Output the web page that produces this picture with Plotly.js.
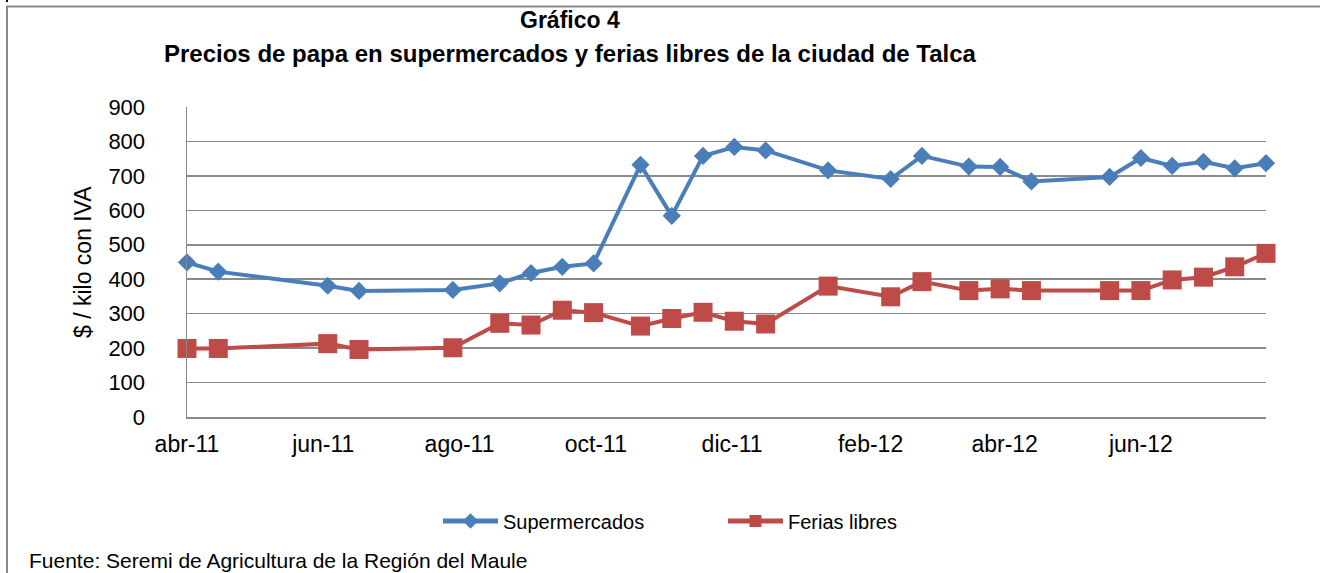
<!DOCTYPE html>
<html>
<head>
<meta charset="utf-8">
<script src="https://cdn.plot.ly/plotly-3.0.1.min.js"></script>
<style>
html,body{margin:0;padding:0;background:#fff;}
#chart{width:1320px;height:573px;}
</style>
</head>
<body>
<div id="chart"></div>
<script>
// Dates of observations
const fechas = ['2011-04-01','2011-04-15','2011-06-03','2011-06-17','2011-07-29','2011-08-19',
  '2011-09-02','2011-09-16','2011-09-30','2011-10-21','2011-11-04','2011-11-18',
  '2011-12-02','2011-12-16','2012-01-13','2012-02-10','2012-02-24','2012-03-16',
  '2012-03-30','2012-04-13','2012-05-18','2012-06-01','2012-06-15','2012-06-29',
  '2012-07-13','2012-07-27'];
// $ / kilo con IVA
const supermercados = [449,422,381,366,369,388,418,436,446,732,584,758,784,774,716,691,758,727,726,684,697,752,729,741,722,737];
const feriasLibres = [199,199,213,196,201,272,267,310,303,264,286,304,278,270,380,349,393,367,372,367,367,367,398,406,436,475];
// Axis ticks
const tickFechas = ['2011-04-01','2011-06-01','2011-08-01','2011-10-01','2011-12-01','2012-02-01','2012-04-01','2012-06-01'];
const tickTextos = ['abr-11','jun-11','ago-11','oct-11','dic-11','feb-12','abr-12','jun-12'];
const yTicks = [0,100,200,300,400,500,600,700,800,900];
const serieNombres = ['Supermercados','Ferias libres'];
const titulo1 = 'Gráfico 4';
const titulo2 = 'Precios de papa en supermercados y ferias libres de la ciudad de Talca';
const tituloY = '$ / kilo con IVA';
const fuente = 'Fuente: Seremi de Agricultura de la Región del Maule';

const FONT = '"Liberation Sans", Arial, sans-serif';
const W = 1320, H = 573;
const L = 187, R = 54, T = 107, B = 156;
const pw = W - L - R, ph = H - T - B;
const px = x => (x - L) / pw;
const py = y => (H - B - y) / ph;
const grid = '#8a8a8a';

const traces = [
  {x: fechas, y: supermercados, name: serieNombres[0], type: 'scatter', mode: 'lines+markers',
   cliponaxis: false,
   line: {color: '#4a7ebb', width: 4}, marker: {symbol: 'diamond', size: 14, color: '#4a7ebb'}},
  {x: fechas, y: feriasLibres, name: serieNombres[1], type: 'scatter', mode: 'lines+markers',
   cliponaxis: false,
   line: {color: '#be4b48', width: 4}, marker: {symbol: 'square', size: 19, color: '#be4b48'}}
];

const layout = {
  width: W, height: H,
  margin: {l: L, r: R, t: T, b: B, pad: 0},
  paper_bgcolor: '#fff', plot_bgcolor: '#fff',
  font: {family: FONT, size: 20, color: '#000'},
  showlegend: true,
  legend: {orientation: 'h', x: px(438), y: py(521), xanchor: 'left', yanchor: 'middle',
    font: {family: FONT, size: 20, color: '#000'}, entrywidth: 215, entrywidthmode: 'pixels',
    itemwidth: 55, itemsizing: 'constant', bgcolor: 'rgba(0,0,0,0)'},
  xaxis: {type: 'date', range: ['2011-04-01', '2012-07-27'], tickmode: 'array',
    tickvals: tickFechas, ticktext: tickTextos, showgrid: false, zeroline: false,
    showline: true, linecolor: grid, linewidth: 1.5,
    ticks: 'outside', ticklen: 6, tickcolor: 'rgba(0,0,0,0)',
    tickfont: {family: FONT, size: 23, color: '#000'}, fixedrange: true},
  yaxis: {range: [0, 900], tickmode: 'array', tickvals: yTicks, showgrid: true,
    gridcolor: grid, gridwidth: 1.5, zeroline: false, showline: true, linecolor: grid, linewidth: 1.5,
    ticks: 'outside', ticklen: 36, tickcolor: 'rgba(0,0,0,0)',
    tickfont: {family: FONT, size: 22, color: '#000'}, fixedrange: true},
  shapes: [
    {type: 'line', xref: 'paper', yref: 'paper', x0: px(6), x1: px(1320), y0: py(6.5), y1: py(6.5),
     line: {color: '#8a8a8a', width: 2}},
    {type: 'line', xref: 'paper', yref: 'paper', x0: px(7), x1: px(7), y0: py(6), y1: py(573),
     line: {color: '#8a8a8a', width: 2}},
    {type: 'rect', xref: 'paper', yref: 'paper', x0: px(6), x1: px(8), y0: py(0), y1: py(2),
     line: {width: 0}, fillcolor: '#000'}
  ],
  annotations: [
    {text: '<b>' + titulo1 + '</b>', xref: 'paper', yref: 'paper', x: px(570), y: py(20),
     xanchor: 'center', yanchor: 'middle', showarrow: false, font: {family: FONT, size: 23, color: '#000'}},
    {text: '<b>' + titulo2 + '</b>', xref: 'paper', yref: 'paper', x: px(570), y: py(53),
     xanchor: 'center', yanchor: 'middle', showarrow: false, font: {family: FONT, size: 24, color: '#000'}},
    {text: tituloY, xref: 'paper', yref: 'paper', x: px(83), y: py(262), textangle: -90,
     xanchor: 'center', yanchor: 'middle', showarrow: false, font: {family: FONT, size: 23, color: '#000'}},
    {text: fuente, xref: 'paper', yref: 'paper', x: px(27), y: py(560),
     xanchor: 'left', yanchor: 'middle', showarrow: false, font: {family: FONT, size: 21, color: '#000'}}
  ]
};

Plotly.newPlot('chart', traces, layout, {staticPlot: true, displayModeBar: false});
</script>
</body>
</html>
